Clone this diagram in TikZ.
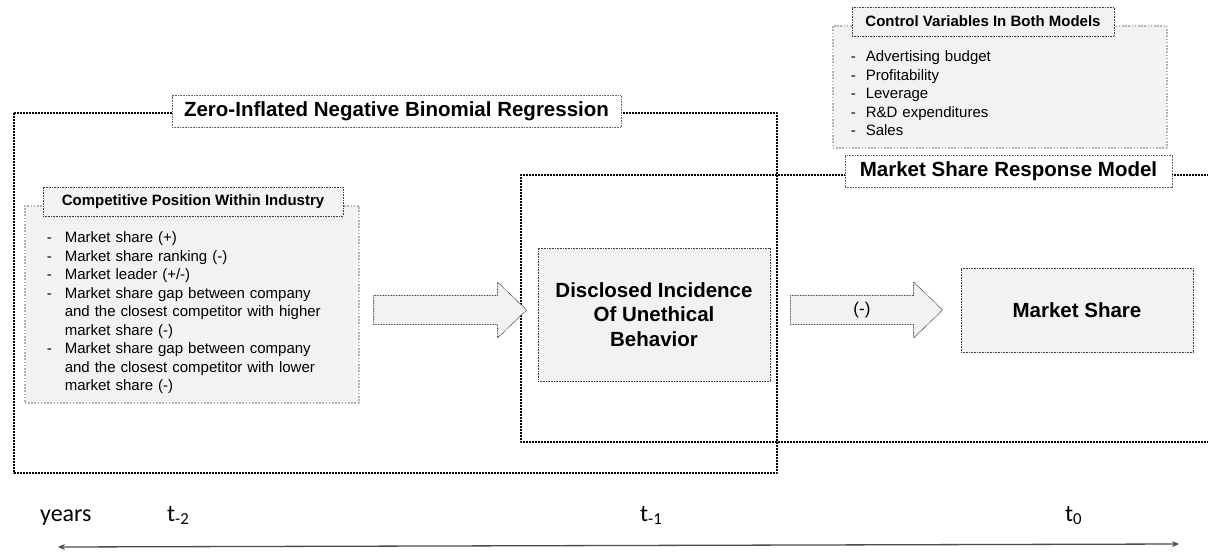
\documentclass[tikz,border=0pt]{standalone}
\usepackage{fontspec}
\setmainfont{Liberation Sans}
\newfontfamily\calfont{Carlito}
\usetikzlibrary{calc,arrows.meta}
\definecolor{boxgray}{HTML}{F2F2F2}
\newcommand{\itm}[2][18pt]{\par\noindent\hangindent=#1\hangafter=1\makebox[#1][l]{-}#2}
\newcommand{\fatarrow}[2]{%
  \draw[fatarrowshape] ([yshift=14.5pt]#1) -- ([shift={(-29pt,14.5pt)}]#2) -- ([shift={(-29pt,28pt)}]#2)
    -- (#2) -- ([shift={(-29pt,-28pt)}]#2) -- ([shift={(-29pt,-14.5pt)}]#2) -- ([yshift=-14.5pt]#1) -- cycle;}
\tikzset{
  thindots/.style={line width=0.8pt, dash pattern=on 0.8pt off 0.8pt},
  outerbox/.style={draw=black, line width=2pt, dash pattern=on 2pt off 1pt},
  titlebox/.style={draw=black!60, thindots, fill=white, font=\fontsize{20.5}{24}\selectfont\bfseries, minimum height=32pt},
  listbox/.style={draw=black!30, line width=1.6pt, dash pattern=on 1.6pt off 1.6pt, fill=boxgray,
    align=left, font=\fontsize{15}{18.5}\selectfont},
  headbox/.style={draw=black!75, thindots, fill=boxgray, font=\fontsize{15}{18}\selectfont\bfseries, minimum height=29pt},
  varbox/.style={draw=black!75, thindots, fill=boxgray, font=\fontsize{20.5}{24.5}\selectfont\bfseries, align=center},
  fatarrowshape/.style={draw=black!75, thindots, fill=boxgray},
  timelbl/.style={font=\calfont\fontsize{24}{28}\selectfont, inner sep=0pt},
}
\begin{document}
\begin{tikzpicture}[x=1pt, y=-1pt, line join=round]
\useasboundingbox (0,0) rectangle (1208,555);
% model frames
\draw[outerbox] (14,113) rectangle (777,473);
\draw[outerbox] (1215,175) -- (521,175) -- (521,442) -- (1215,442);
\node[titlebox, minimum width=449pt] (zinb) at (396.5,111.5) {Zero-Inflated Negative Binomial Regression};
\node[titlebox, minimum width=327pt] (msrm) at (1008.5,171.5) {Market Share Response Model};
% competitive position
\node[listbox, anchor=north west, text width=290pt, inner xsep=22pt, inner ysep=0pt, minimum height=197pt] (cpbox) at (24,205) {%
  \vspace*{9pt}%
  \itm{Market share (+)}
  \itm{Market share ranking (-)}
  \itm{Market leader (+/-)}
  \itm{Market share gap between company\newline and the closest competitor with higher\newline market share (-)}
  \itm{Market share gap between company\newline and the closest competitor with lower\newline market share (-)}\par};
\node[headbox, minimum width=300pt] (cphead) at (193,201.5) {Competitive Position Within Industry};
% control variables
\node[listbox, anchor=north west, text width=298pt, inner xsep=18pt, inner ysep=0pt, minimum height=122pt] (ctbox) at (832,25) {%
  \vspace*{6pt}%
  \itm[15pt]{Advertising budget}
  \itm[15pt]{Profitability}
  \itm[15pt]{Leverage}
  \itm[15pt]{R\&D expenditures}
  \itm[15pt]{Sales}\par};
\node[headbox, minimum width=262pt] (cthead) at (983,21.5) {Control Variables In Both Models};
% variables
\node[varbox, minimum width=232pt, minimum height=133pt] (dib) at (654,314.5) {Disclosed Incidence\\Of Unethical\\Behavior};
\node[varbox, minimum width=232pt, minimum height=84pt] (ms) at (1077,310) {Market Share};
% block arrows
\path ([xshift=14pt]cpbox.east |- ms.west) coordinate (a1s)
      ([xshift=-11pt]dib.west |- ms.west) coordinate (a1t)
      ([xshift=20pt]dib.east |- ms.west) coordinate (a2s)
      ([xshift=-18pt]ms.west) coordinate (a2t);
\fatarrow{a1s}{a1t}
\fatarrow{a2s}{a2t}
\node[font=\fontsize{17}{20}\selectfont] (neg) at ($(a2s)!0.47!(a2t)$) {(-)};
% time axis
\node[timelbl, anchor=base west] (yrs) at (40,521) {years};
\node[timelbl, anchor=base west] (tm2) at (167,521) {t\textsubscript{-2}};
\node[timelbl, anchor=base west] (tm1) at (640,521) {t\textsubscript{-1}};
\node[timelbl, anchor=base west] (t0) at (1065,521) {t\textsubscript{0}};
\coordinate (tl0) at (58,547);
\coordinate (tl1) at (1179,544);
\draw[black!70, line width=1.3pt, {Stealth[length=7pt,width=6pt]}-{Stealth[length=7pt,width=6pt]}] (tl0) -- (tl1);
\end{tikzpicture}
\end{document}
